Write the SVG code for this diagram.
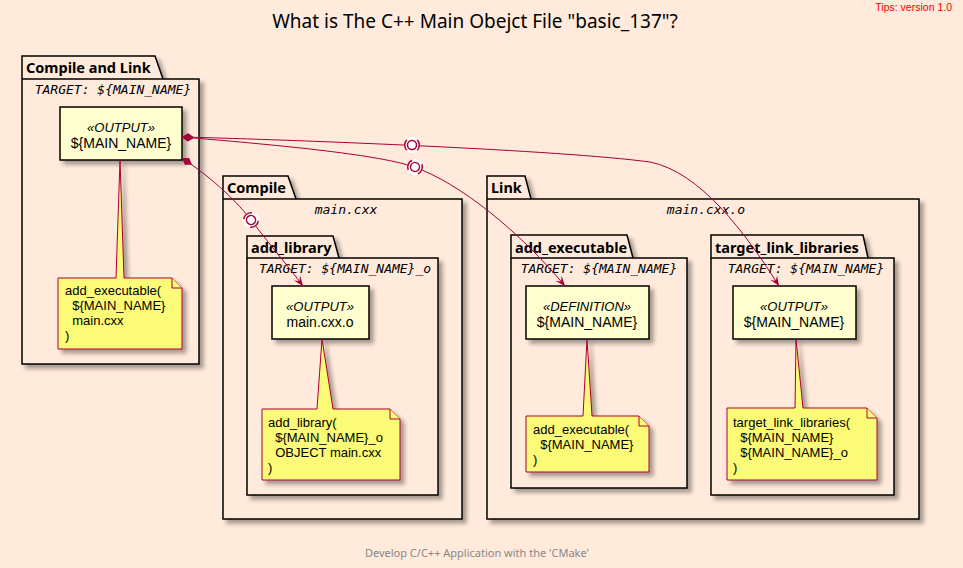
<svg xmlns="http://www.w3.org/2000/svg" width="963" height="568" viewBox="0 0 963 568">
<defs>
<filter id="sh" x="-20%" y="-20%" width="140%" height="140%">
<feGaussianBlur in="SourceAlpha" stdDeviation="2"/>
<feOffset dx="4" dy="4" result="b"/>
<feComponentTransfer><feFuncA type="linear" slope="0.35"/></feComponentTransfer>
<feMerge><feMergeNode/><feMergeNode in="SourceGraphic"/></feMerge>
</filter>
<marker id="dia" markerUnits="userSpaceOnUse" markerWidth="14" markerHeight="10" refX="0" refY="5" orient="auto" viewBox="0 0 14 10">
<path d="M0,5 L6,1 L12,5 L6,9 Z" fill="#A80036"/>
</marker>
<marker id="arr" markerUnits="userSpaceOnUse" markerWidth="12" markerHeight="10" refX="11" refY="5" orient="auto" viewBox="0 0 12 10">
<path d="M11,5 L1,1 L5,5 L1,9 Z" fill="#A80036"/>
</marker>
<g id="lolli">
<circle r="8" fill="#FFFFFF"/>
<circle r="4.5" fill="#FFFFFF" stroke="#A80036" stroke-width="1.5"/>
<path d="M-5.2,-5.2 A7.5,7.5 0 0 0 -5.2,5.2 M5.2,-5.2 A7.5,7.5 0 0 1 5.2,5.2" fill="none" stroke="#A80036" stroke-width="1.5"/>
</g>
</defs>
<style>
.pkg{fill:#FFEADB;stroke:#000;stroke-width:1.5;}
.tab{font-family:"Noto Sans",sans-serif;font-weight:bold;font-size:14.5px;fill:#000;}
.mono{font-family:"DejaVu Sans Mono",monospace;font-style:italic;font-size:13px;fill:#000;}
.node{fill:#FEFECE;stroke:#000;stroke-width:1.5;}
.st{font-family:"Liberation Sans",Arial,sans-serif;font-style:italic;font-size:13px;fill:#000;}
.nm{font-family:"Liberation Sans",Arial,sans-serif;font-size:14px;fill:#000;}
.note{fill:#FBFB77;stroke:#A80036;stroke-width:1;}
.nt{font-family:"Liberation Sans",Arial,sans-serif;font-size:13px;fill:#000;}
.con{fill:none;stroke:#A80036;stroke-width:1;}
</style>
<rect width="963" height="568" fill="#FFEADB"/>
<text x="952" y="11" text-anchor="end" font-family="Liberation Sans, Arial, sans-serif" font-size="10.5" fill="#FF0000">Tips: version 1.0</text>
<text x="475" y="28" text-anchor="middle" font-family="Noto Sans, sans-serif" font-size="19" fill="#000">What is The C++ Main Obejct File "basic_137"?</text>
<text x="477" y="557" text-anchor="middle" font-family="Noto Sans, sans-serif" font-size="11" fill="#888888">Develop C/C++ Application with the 'CMake'</text>

<g id="pkg-compile-and-link">
<path class="pkg" filter="url(#sh)" d="M22,56 L155,56 L163,79 L199,79 L199,364 L22,364 Z"/>
<path d="M22,79 L163,79" stroke="#000" stroke-width="1.5"/>
<text class="tab" x="26" y="73">Compile and Link</text>
<text class="mono" x="113" y="94" text-anchor="middle">TARGET: ${MAIN_NAME}</text>
</g>
<g id="pkg-compile">
<path class="pkg" filter="url(#sh)" d="M223,176 L288,176 L296,199 L462,199 L462,519 L223,519 Z"/>
<path d="M223,199 L296,199" stroke="#000" stroke-width="1.5"/>
<text class="tab" x="227" y="193">Compile</text>
<text class="mono" x="346" y="214" text-anchor="middle">main.cxx</text>
</g>
<g id="pkg-add-library">
<path class="pkg" filter="url(#sh)" d="M247,236 L333,236 L339,258 L438,258 L438,495 L247,495 Z"/>
<path d="M247,258 L339,258" stroke="#000" stroke-width="1.5"/>
<text class="tab" x="251" y="253">add_library</text>
<text class="mono" x="345" y="273" text-anchor="middle">TARGET: ${MAIN_NAME}_o</text>
</g>
<g id="pkg-link">
<path class="pkg" filter="url(#sh)" d="M487,176 L525,176 L531,199 L919,199 L919,519 L487,519 Z"/>
<path d="M487,199 L531,199" stroke="#000" stroke-width="1.5"/>
<text class="tab" x="491" y="193">Link</text>
<text class="mono" x="706" y="214" text-anchor="middle">main.cxx.o</text>
</g>
<g id="pkg-add-executable">
<path class="pkg" filter="url(#sh)" d="M511,235 L627,235 L633,258 L687,258 L687,488 L511,488 Z"/>
<path d="M511,258 L633,258" stroke="#000" stroke-width="1.5"/>
<text class="tab" x="515" y="253">add_executable</text>
<text class="mono" x="599" y="273" text-anchor="middle">TARGET: ${MAIN_NAME}</text>
</g>
<g id="pkg-target-link-libraries">
<path class="pkg" filter="url(#sh)" d="M711,235 L863,235 L868,258 L894,258 L894,495 L711,495 Z"/>
<path d="M711,258 L868,258" stroke="#000" stroke-width="1.5"/>
<text class="tab" x="715" y="253">target_link_libraries</text>
<text class="mono" x="806" y="273" text-anchor="middle">TARGET: ${MAIN_NAME}</text>
</g>

<g id="node-main-output">
<rect class="node" filter="url(#sh)" x="60" y="107" width="122" height="53"/>
<text class="st" x="121" y="132" text-anchor="middle">«OUTPUT»</text>
<text class="nm" x="121" y="148" text-anchor="middle">${MAIN_NAME}</text>
</g>
<g id="note-main">
<path class="note" filter="url(#sh)" d="M120,160 L124,278 L172,278 L182,288 L182,349 L58,349 L58,278 L116,278 Z"/>
<path class="note" d="M172,278 L172,288 L182,288"/>
<text class="nt" x="65" y="295">add_executable(</text>
<text class="nt" x="65" y="310" xml:space="preserve">  ${MAIN_NAME}</text>
<text class="nt" x="65" y="325" xml:space="preserve">  main.cxx</text>
<text class="nt" x="65" y="340">)</text>
</g>

<g id="node-lib-output">
<rect class="node" filter="url(#sh)" x="272" y="286" width="97" height="53"/>
<text class="st" x="320" y="311" text-anchor="middle">«OUTPUT»</text>
<text class="nm" x="320" y="327" text-anchor="middle">main.cxx.o</text>
</g>
<g id="note-lib">
<path class="note" filter="url(#sh)" d="M322,339 L333,409 L390,409 L400,419 L400,480 L262,480 L262,409 L317,409 Z"/>
<path class="note" d="M390,409 L390,419 L400,419"/>
<text class="nt" x="268" y="427">add_library(</text>
<text class="nt" x="268" y="442" xml:space="preserve">  ${MAIN_NAME}_o</text>
<text class="nt" x="268" y="457" xml:space="preserve">  OBJECT main.cxx</text>
<text class="nt" x="268" y="472">)</text>
</g>

<g id="node-exe-definition">
<rect class="node" filter="url(#sh)" x="526" y="286" width="123" height="53"/>
<text class="st" x="587" y="311" text-anchor="middle">«DEFINITION»</text>
<text class="nm" x="587" y="327" text-anchor="middle">${MAIN_NAME}</text>
</g>
<g id="note-exe">
<path class="note" filter="url(#sh)" d="M587,339 L592,416 L639,416 L649,426 L649,472 L526,472 L526,416 L583,416 Z"/>
<path class="note" d="M639,416 L639,426 L649,426"/>
<text class="nt" x="533" y="434">add_executable(</text>
<text class="nt" x="533" y="449" xml:space="preserve">  ${MAIN_NAME}</text>
<text class="nt" x="533" y="464">)</text>
</g>

<g id="node-tll-output">
<rect class="node" filter="url(#sh)" x="733" y="286" width="123" height="53"/>
<text class="st" x="794" y="311" text-anchor="middle">«OUTPUT»</text>
<text class="nm" x="794" y="327" text-anchor="middle">${MAIN_NAME}</text>
</g>
<g id="note-tll">
<path class="note" filter="url(#sh)" d="M796,339 L803,408 L867,408 L877,418 L877,480 L727,480 L727,408 L795,408 Z"/>
<path class="note" d="M867,408 L867,418 L877,418"/>
<text class="nt" x="733" y="427">target_link_libraries(</text>
<text class="nt" x="733" y="442" xml:space="preserve">  ${MAIN_NAME}</text>
<text class="nt" x="733" y="457" xml:space="preserve">  ${MAIN_NAME}_o</text>
<text class="nt" x="733" y="472">)</text>
</g>

<g id="connectors">
<path class="con" marker-start="url(#dia)" marker-end="url(#arr)" d="M182,137 C300,140 560,150 650,162 C700,172 745,232 779,286"/>
<path class="con" marker-start="url(#dia)" marker-end="url(#arr)" d="M182,137 C290,146 380,155 414,167 C460,183 520,232 565,286"/>
<path class="con" marker-start="url(#dia)" marker-end="url(#arr)" d="M182,158 C215,180 238,203 251,220 C270,245 288,266 303,286"/>
<use href="#lolli" x="412" y="145"/>
<use href="#lolli" transform="translate(415,167) rotate(22)"/>
<use href="#lolli" transform="translate(251,220) rotate(52)"/>
</g>
</svg>
